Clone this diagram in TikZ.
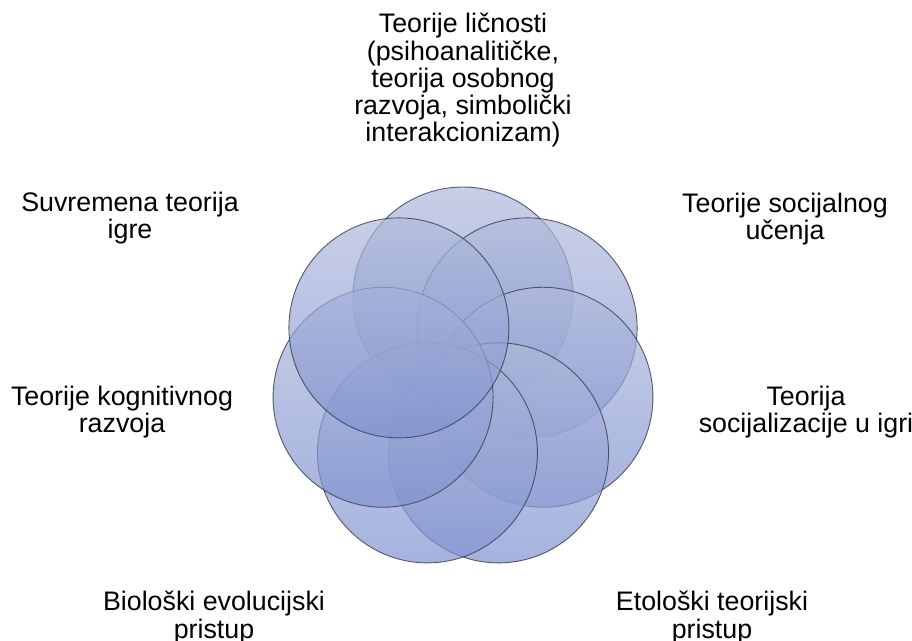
\documentclass[tikz,border=0pt]{standalone}
\usepackage{fontspec}
\setmainfont{Liberation Sans}
\definecolor{petaltop}{RGB}{176,186,219}
\definecolor{petalbot}{RGB}{127,146,208}
\definecolor{petalline}{RGB}{60,66,84}
\tikzset{
  petal/.style={circle, minimum size=220pt, inner sep=0pt, top color=petaltop, bottom color=petalbot, fill opacity=0.7, draw=petalline, draw opacity=0.85, line width=0.9pt},
  lbl/.style={align=center, inner sep=0pt, anchor=north, text=black, font=\fontsize{26.8}{27.3}\selectfont}
}
\begin{document}
\begin{tikzpicture}[x=1pt,y=-1pt]
\useasboundingbox (0,0) rectangle (912,640);
\foreach \a/\n in {90/c1, 38.57/c2, -12.86/c3, -64.29/c4, -115.71/c5, -167.14/c6, -218.57/c7}{
  \node[petal] (\n) at ({463+82*cos(\a)}, {379-82*sin(\a)}) {};
}
\node[lbl] (l1) at (463,13) {Teorije ličnosti\\(psihoanalitičke,\\teorija osobnog\\razvoja, simbolički\\interakcionizam)};
\node[lbl] (l2) at (785,193) {Teorije socijalnog\\učenja};
\node[lbl] (l3) at (806,386) {Teorija\\socijalizacije u igri};
\node[lbl] (l4) at (712,591) {Etološki teorijski\\pristup};
\node[lbl] (l5) at (214,591) {Biološki evolucijski\\pristup};
\node[lbl] (l6) at (122,386) {Teorije kognitivnog\\razvoja};
\node[lbl] (l7) at (130,192) {Suvremena teorija\\igre};
\end{tikzpicture}
\end{document}
